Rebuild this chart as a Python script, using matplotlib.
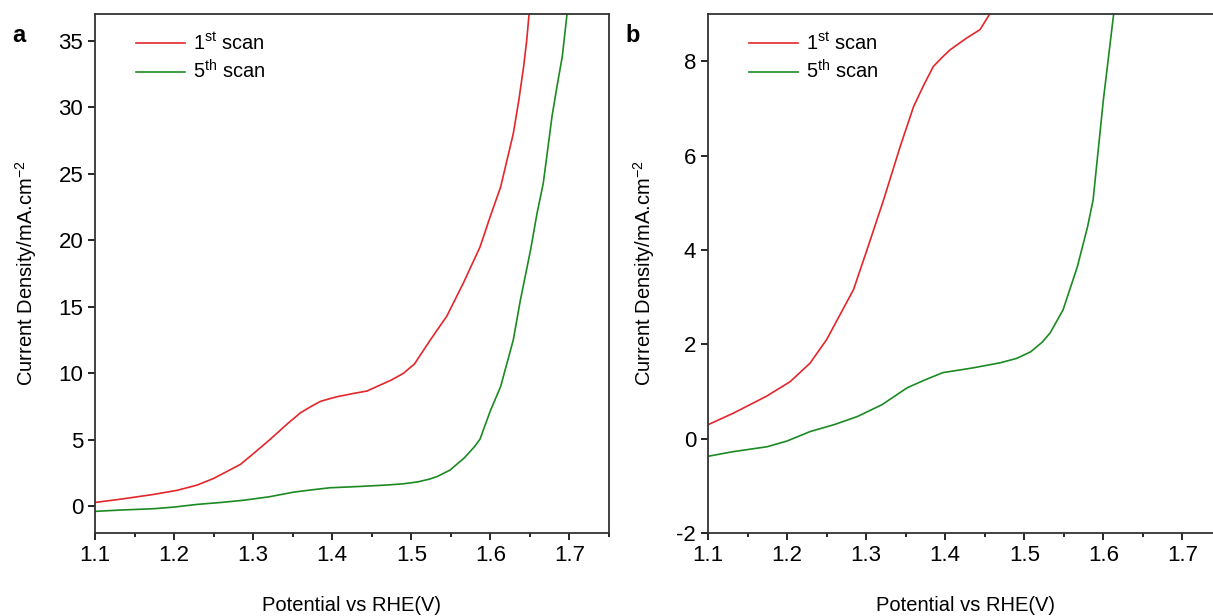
import numpy as np
import matplotlib.pyplot as plt
from matplotlib.ticker import MultipleLocator

plt.rcParams['font.family'] = ['Liberation Sans', 'DejaVu Sans']
plt.rcParams['axes.unicode_minus'] = False

# LSV data, potential (V vs RHE) and current density (mA/cm2)
v_1st = [1.098, 1.132, 1.174, 1.204, 1.229, 1.250, 1.267, 1.284, 1.301, 1.322,
         1.343, 1.360, 1.373, 1.385, 1.396, 1.406, 1.427, 1.444, 1.457, 1.475,
         1.490, 1.504, 1.524, 1.545, 1.566, 1.587, 1.600, 1.613, 1.621, 1.629,
         1.636, 1.642, 1.646, 1.649, 1.652]
j_1st = [0.28, 0.54, 0.90, 1.21, 1.60, 2.10, 2.63, 3.16, 4.00, 5.06,
         6.19, 7.04, 7.50, 7.89, 8.08, 8.24, 8.49, 8.67, 9.02, 9.50,
         10.0, 10.7, 12.5, 14.3, 16.8, 19.5, 21.8, 24.0, 26.0, 28.0,
         30.5, 33.0, 35.0, 37.0, 40.0]

v_5th = [1.098, 1.130, 1.175, 1.200, 1.229, 1.260, 1.289, 1.320, 1.352, 1.375,
         1.397, 1.420, 1.435, 1.470, 1.490, 1.508, 1.523, 1.533, 1.549, 1.567,
         1.580, 1.587, 1.600, 1.613, 1.629, 1.638, 1.651, 1.659, 1.667, 1.678,
         1.685, 1.691, 1.697, 1.700]
j_5th = [-0.38, -0.28, -0.17, -0.05, 0.15, 0.30, 0.47, 0.72, 1.08, 1.25,
         1.40, 1.46, 1.50, 1.61, 1.70, 1.84, 2.05, 2.25, 2.73, 3.64,
         4.49, 5.06, 7.18, 9.00, 12.5, 15.5, 19.3, 22.0, 24.3, 29.3,
         31.8, 33.8, 37.0, 40.0]

red = '#e3262b'
green = '#1b8a22'

fig = plt.figure(figsize=(12.13, 6.16), dpi=100)
ax1 = fig.add_axes([0.0783, 0.1347, 0.4237, 0.8425])
ax2 = fig.add_axes([0.5837, 0.1347, 0.4237, 0.8425])

panels = [(ax1, 'a', (-2, 37), 5), (ax2, 'b', (-2, 9), 2)]
for ax, letter, ylim, ystep in panels:
    ax.plot(v_1st, j_1st, color=red, lw=1.2, label='1$^{\\mathregular{st}}$ scan')
    ax.plot(v_5th, j_5th, color=green, lw=1.2, label='5$^{\\mathregular{th}}$ scan')
    ax.set_xlim(1.1, 1.75)
    ax.set_ylim(*ylim)
    ax.xaxis.set_major_locator(MultipleLocator(0.1))
    ax.xaxis.set_minor_locator(MultipleLocator(0.05))
    ax.yaxis.set_major_locator(MultipleLocator(ystep))
    ax.tick_params(direction='out', length=5, width=1.2, labelsize=16)
    ax.tick_params(which='minor', direction='out', length=3, width=1.2)
    for s in ax.spines.values():
        s.set_linewidth(1.3)
        s.set_color('#333333')
    ax.set_xlabel('Potential vs RHE(V)', fontsize=14.5, labelpad=22)
    ax.set_ylabel('Current Density/mA.cm$^{\\mathregular{-2}}$', fontsize=14.5, labelpad=14)
    ax.legend(loc='upper left', frameon=False, fontsize=14.5, handlelength=2.4,
              handletextpad=0.4, labelspacing=0.3, borderaxespad=0.5,
              bbox_to_anchor=(0.045, 1.0))
    ax.text(-0.16, 0.98, letter, transform=ax.transAxes, fontsize=17,
            fontweight='bold', va='top')

ax1.set_yticklabels([str(int(t)) for t in ax1.get_yticks()])
ax2.set_xticklabels([f'{t:.1f}' for t in ax2.get_xticks()])
ax1.set_xticklabels([f'{t:.1f}' for t in ax1.get_xticks()])

fig.savefig('out.png', dpi=100)
